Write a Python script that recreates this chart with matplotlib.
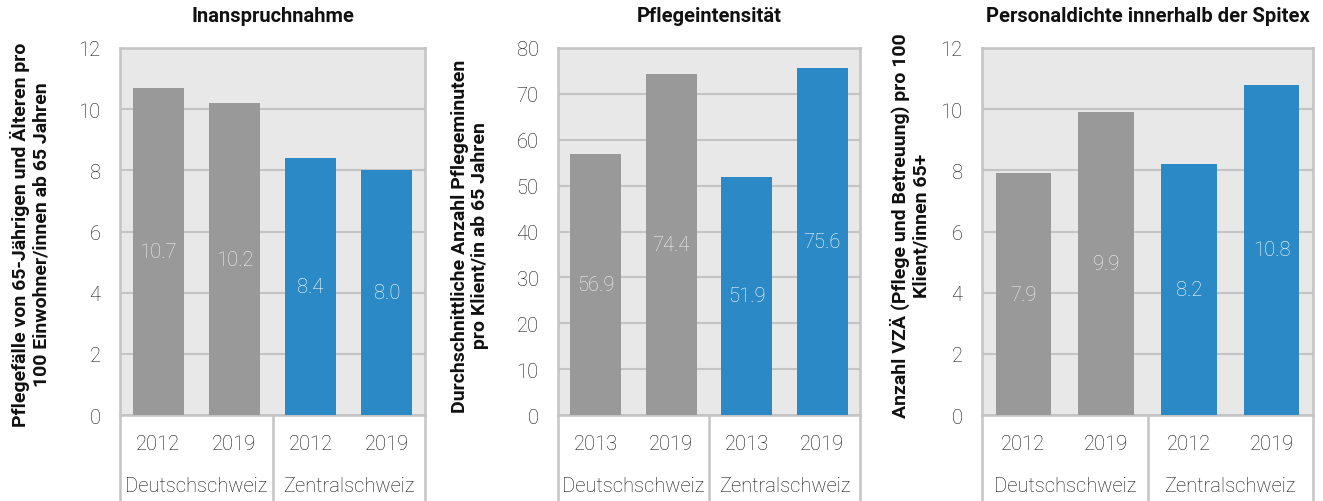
import matplotlib.pyplot as plt

plt.rcParams['font.family'] = ['Roboto', 'DejaVu Sans']

# Daten
regions = ['Deutschschweiz', 'Zentralschweiz']
years_a = ['2012', '2019', '2012', '2019']
years_b = ['2013', '2019', '2013', '2019']

inanspruchnahme = [10.7, 10.2, 8.4, 8.0]
pflegeintensitaet = [56.9, 74.4, 51.9, 75.6]
personaldichte = [7.9, 9.9, 8.2, 10.8]

titles = ['Inanspruchnahme', 'Pflegeintensität', 'Personaldichte innerhalb der Spitex']
ylabels = ['Pflegefälle von 65-Jährigen und Älteren pro\n100 Einwohner/innen ab 65 Jahren',
           'Durchschnittliche Anzahl Pflegeminuten\npro Klient/in ab 65 Jahren',
           'Anzahl VZÄ (Pflege und Betreuung) pro 100\nKlient/innen 65+']

GRAY = '#999999'
BLUE = '#2B8AC6'
BG = '#E8E8E8'
LINE = '#C4C4C4'
TXT = '#111111'

W, H = 1323, 502
fig = plt.figure(figsize=(W / 100, H / 100), dpi=100)


def px_axes(x0, x1, y_top, y_bot):
    return fig.add_axes([x0 / W, 1 - y_bot / H, (x1 - x0) / W, (y_bot - y_top) / H])


def plot_panel(x0, x1, values, years, ymax, step, title, ylabel, ylab_x, ylab_y):
    ax = px_axes(x0, x1, 49, 416)
    colors = [GRAY, GRAY, BLUE, BLUE]
    xs = range(len(values))
    ax.bar(xs, values, width=0.67, color=colors, zorder=3)
    ax.set_xlim(-0.5, 3.5)
    ax.set_ylim(0, ymax)
    ax.set_yticks(range(0, ymax + 1, step))
    ax.set_facecolor(BG)
    ax.grid(axis='y', color=LINE, linewidth=1.5, zorder=1)
    ax.set_xticks([])
    ax.tick_params(axis='y', length=0, pad=14, labelsize=14.5, labelcolor=TXT)
    for lab in ax.get_yticklabels():
        lab.set_fontweight('light')
    for sp in ax.spines.values():
        sp.set_color(LINE)
        sp.set_linewidth(1.8)

    for x, v, c in zip(xs, values, colors):
        tc = '#F2F2F2' if c == GRAY else 'white'
        ax.text(x, v / 2, f'{v:.1f}', ha='center', va='center', color=tc,
                fontsize=14.5, fontweight='light', zorder=4)

    # Kategorienachse unten
    tr = ax.get_xaxis_transform()
    ybot = -(502 - 416) / (416 - 49)
    for xl in [-0.5, 1.5, 3.5]:
        ax.plot([xl, xl], [0, ybot], transform=tr, color=LINE, lw=1.8,
                clip_on=False, solid_capstyle='butt')
    y_year = -(445 - 416) / (416 - 49)
    y_reg = -(487 - 416) / (416 - 49)
    for x, yr in zip(xs, years):
        ax.text(x, y_year, yr, transform=tr, ha='center', va='center',
                fontsize=14.5, fontweight='light', color=TXT)
    for x, rg in zip([0.5, 2.5], regions):
        ax.text(x, y_reg, rg, transform=tr, ha='center', va='center',
                fontsize=14.5, fontweight='light', color=TXT)

    fig.text((x0 + x1) / 2 / W, 1 - 17 / H, title, ha='center', va='center',
             fontsize=14.5, fontweight='bold', color='#111111')
    fig.text(ylab_x / W, 1 - ylab_y / H, ylabel, rotation=90, ha='center',
             va='center', multialignment='center', fontsize=14,
             fontweight='bold', color='#111111', linespacing=1.2)
    return ax


plot_panel(120, 425, inanspruchnahme, years_a, 12, 2, titles[0], ylabels[0], 30, 235)
plot_panel(558, 860, pflegeintensitaet, years_b, 80, 10, titles[1], ylabels[1], 470, 236)
plot_panel(982, 1313, personaldichte, years_a, 12, 2, titles[2], ylabels[2], 910, 226)

fig.savefig('out.png', dpi=100)
